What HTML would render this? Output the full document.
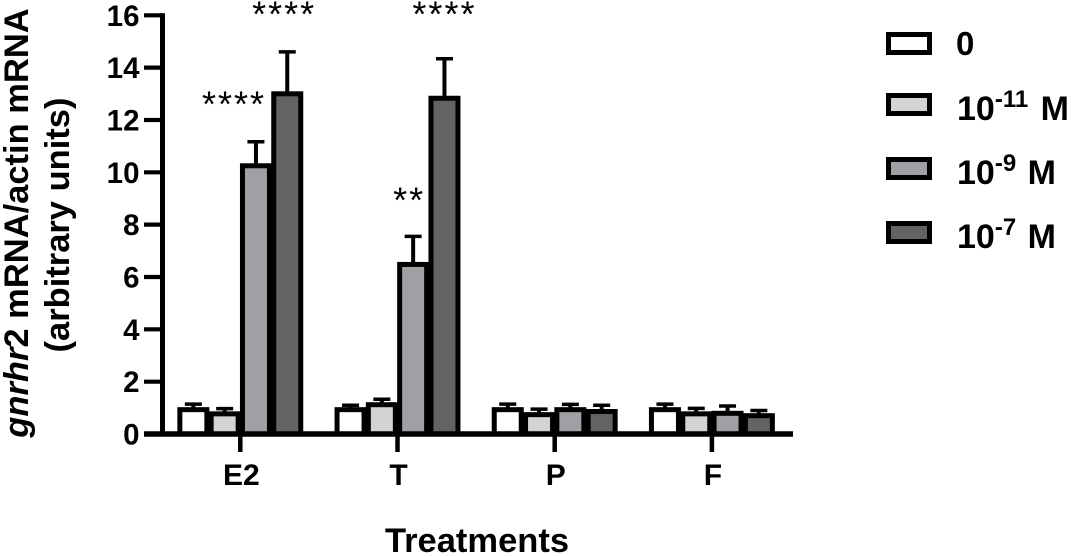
<!DOCTYPE html>
<html lang="en">
<head>
<meta charset="utf-8">
<title>gnrhr2 mRNA chart</title>
<style>
html,body{margin:0;padding:0;background:#fff;}
svg{display:block;font-family:"Liberation Sans",Arial,sans-serif;}
</style>
</head>
<body>
<svg id="chart" xmlns="http://www.w3.org/2000/svg" width="1071" height="556" viewBox="0 0 1071 556">
  <rect width="1071" height="556" fill="#fff"/>
  <g id="marks"></g>
  <g id="axes"></g>
  <g id="notes"></g>
  <g font-weight="700" font-size="34.5" fill="#000">
    <text transform="translate(28,223) rotate(-90)" text-anchor="middle"><tspan font-style="italic">gnrhr</tspan>2 mRNA/actin mRNA</text>
    <text transform="translate(69,225) rotate(-90)" text-anchor="middle" font-weight="700">(arbitrary units)</text>
  </g>
  <text x="477" y="552" text-anchor="middle" font-weight="700" font-size="34.5" fill="#000">Treatments</text>
  <g id="legend" font-weight="700" font-size="34" fill="#000">
    <g>
      <rect x="888.5" y="34.5" width="41" height="18" fill="#ffffff" stroke="#000" stroke-width="5"/>
      <text x="956" y="55" font-size="33">0</text>
    </g>
    <g>
      <rect x="888.5" y="95.5" width="41" height="18" fill="#d3d3d3" stroke="#000" stroke-width="5"/>
      <text x="957" y="120">10<tspan font-size="24" dy="-13">-11</tspan><tspan dy="13" dx="3"> M</tspan></text>
    </g>
    <g>
      <rect x="888.5" y="159.5" width="41" height="18" fill="#a0a0a4" stroke="#000" stroke-width="5"/>
      <text x="957" y="184">10<tspan font-size="24" dy="-13">-9</tspan><tspan dy="13" dx="2"> M</tspan></text>
    </g>
    <g>
      <rect x="888.5" y="223.5" width="41" height="18" fill="#636363" stroke="#000" stroke-width="5"/>
      <text x="957" y="248">10<tspan font-size="24" dy="-13">-7</tspan><tspan dy="13" dx="2"> M</tspan></text>
    </g>
  </g>
</svg>
<script>
const categories = ["E2", "T", "P", "F"];
const yTicks = [0, 2, 4, 6, 8, 10, 12, 14, 16];
const dose0 = [0.93, 0.93, 0.93, 0.93];
const dose11 = [0.77, 1.12, 0.74, 0.77];
const dose9 = [10.25, 6.48, 0.93, 0.79];
const dose7 = [13.0, 12.83, 0.86, 0.70];
const err0 = [0.21, 0.17, 0.21, 0.21];
const err11 = [0.20, 0.21, 0.21, 0.21];
const err9 = [0.92, 1.07, 0.20, 0.28];
const err7 = [1.60, 1.51, 0.24, 0.20];
const seriesValues = [dose0, dose11, dose9, dose7];
const seriesErrors = [err0, err11, err9, err7];
const seriesNames = ["0", "1e-11", "1e-9", "1e-7"];
const seriesFills = ["#ffffff", "#d3d3d3", "#a0a0a4", "#636363"];
const noteLabels = ["****", "****", "**", "****"];
const noteCategory = [0, 0, 1, 1];
const noteSeries = [1.3, 2.9, 1.87, 3.0];
const noteValues = [12.9, 16.34, 9.23, 16.34];

const NS = "http://www.w3.org/2000/svg";
const yScale = v => 434 - v * (434 - 15.3) / 16;
const groupX = i => 240.3 + i * 157.2;
const barX = (g, s) => groupX(g) + (s - 1.5) * 31.3;

function make(parent, tag, attrs, text) {
  const el = document.createElementNS(NS, tag);
  for (const k in attrs) el.setAttribute(k, attrs[k]);
  if (text !== undefined) el.textContent = text;
  parent.appendChild(el);
  return el;
}

const marks = document.getElementById("marks");
const axes = document.getElementById("axes");
const notes = document.getElementById("notes");

seriesValues.forEach((values, s) => {
  values.forEach((v, g) => {
    const cx = barX(g, s);
    const top = yScale(v);
    const errTop = yScale(v + seriesErrors[s][g]);
    const errLine = make(marks, "line", {x1: cx, x2: cx, y1: top, y2: errTop, stroke: "#000", "stroke-width": 4});
    
    
    const cap = make(marks, "line", {x1: cx - 8.5, x2: cx + 8.5, y1: errTop, y2: errTop, stroke: "#000", "stroke-width": 3.5});
    
    
    const bar = make(marks, "rect", {x: cx - 13.5, y: top, width: 27, height: Math.max(0, yScale(0) - top), fill: seriesFills[s], stroke: "#000", "stroke-width": 5});
    
    
  });
});

const yAxisLine = make(axes, "line", {x1: 162.5, x2: 162.5, y1: yScale(16) - 2, y2: yScale(0), stroke: "#000", "stroke-width": 5});


const xAxisLine = make(axes, "line", {x1: 144, x2: 793, y1: yScale(0), y2: yScale(0), stroke: "#000", "stroke-width": 5.5});



yTicks.forEach(t => {
  const y = yScale(t);
  const tick = make(axes, "line", {x1: 144, x2: 163, y1: y, y2: y, stroke: "#000", "stroke-width": 4.2});
  
  
  const label = make(axes, "text", {x: 139.5, y: y + 10.5, "text-anchor": "end", "font-weight": 700, "font-size": 29.5, fill: "#000"}, String(t));
  
  
});

categories.forEach((c, g) => {
  const x = groupX(g);
  const tick = make(axes, "line", {x1: x, x2: x, y1: yScale(0), y2: 452, stroke: "#000", "stroke-width": 4.5});
  
  
  const label = make(axes, "text", {x: x + 1, y: 485, "text-anchor": "middle", "font-weight": 700, "font-size": 30, fill: "#000"}, c);
  
  
});

noteLabels.forEach((txt, i) => {
  const x = barX(noteCategory[i], noteSeries[i]);
  const y = yScale(noteValues[i]);
  const note = make(notes, "text", {x: x, y: y + 20, "text-anchor": "middle", "font-size": 36, "letter-spacing": 2, fill: "#000"}, txt);
  
  
});
</script>
</body>
</html>
